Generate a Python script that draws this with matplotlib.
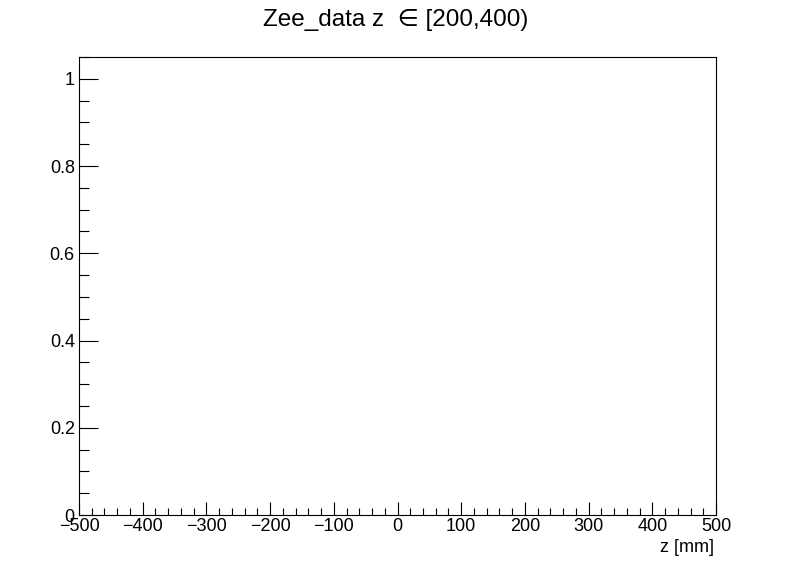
import matplotlib
matplotlib.use("Agg")
import matplotlib.pyplot as plt
from matplotlib.ticker import MultipleLocator
import numpy as np

plt.rcParams['font.family'] = ['Liberation Sans', 'DejaVu Sans']

# empty histogram: z bins in [-500, 500), no entries
bin_edges = np.linspace(-500, 500, 51)
counts = np.zeros(50)

x_range = (-500, 500)
y_range = (0, 1.05)
x_major, x_minor = 100, 20
y_major, y_minor = 0.2, 0.05

title = "Zee_data z  \u2208 [200,400)"
x_label = "z [mm]"

fig = plt.figure(figsize=(7.96, 5.72), dpi=100)
ax = fig.add_axes([79/796, 1 - 515/572, (716 - 79)/796, (515 - 57)/572])

# nothing to draw, the histogram is empty
ax.stairs(counts, bin_edges, color='none')

ax.set_xlim(*x_range)
ax.set_ylim(*y_range)
ax.xaxis.set_major_locator(MultipleLocator(x_major))
ax.xaxis.set_minor_locator(MultipleLocator(x_minor))
ax.yaxis.set_major_locator(MultipleLocator(y_major))
ax.yaxis.set_minor_locator(MultipleLocator(y_minor))
ax.yaxis.set_major_formatter(lambda v, p: f"{v:g}")

ax.tick_params(which='both', direction='in', top=False, right=False,
               labelsize=13, width=0.8)
ax.tick_params(axis='x', which='major', length=9.5, pad=2)
ax.tick_params(axis='x', which='minor', length=5)
ax.tick_params(axis='y', which='major', length=13.7, pad=3)
ax.tick_params(axis='y', which='minor', length=7.2)
for s in ax.spines.values():
    s.set_linewidth(0.8)

fig.text(396/796, 1 - 20/572, title, ha='center', va='center', fontsize=17.5)
fig.text(714/796, 1 - 547/572, x_label, ha='right', va='center', fontsize=13)

fig.savefig("out.png", dpi=100)
